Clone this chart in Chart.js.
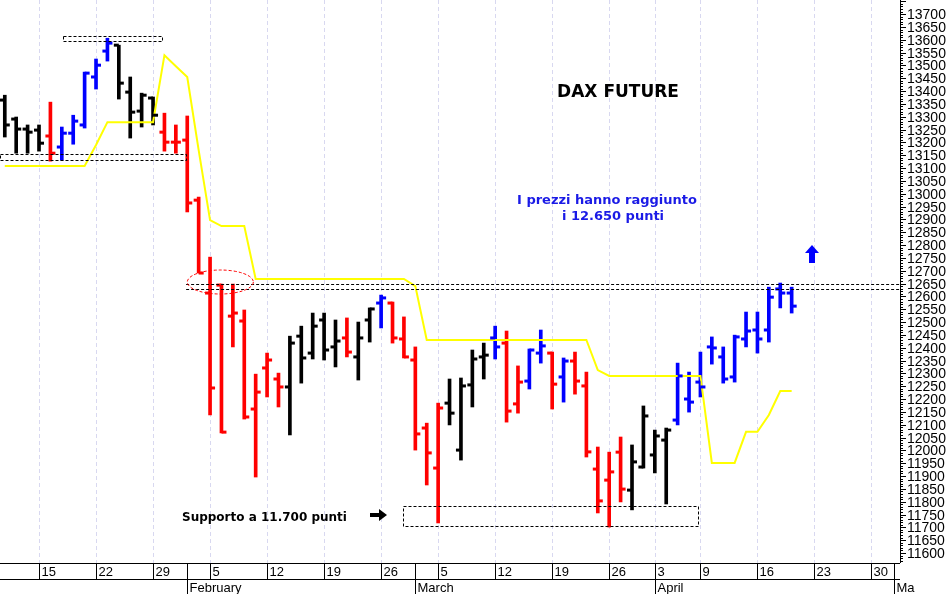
<!DOCTYPE html>
<html lang="it">
<head>
<meta charset="UTF-8">
<title>DAX Future</title>
<script src="https://cdn.jsdelivr.net/npm/chart.js"></script>
<style>
  html, body { margin: 0; padding: 0; background: #fff; }
  #wrap { width: 947px; height: 594px; }
</style>
</head>
<body>
<div id="wrap"><canvas id="dax" width="947" height="594"></canvas></div>
<script>
// trading-day index: 0 = 15 Jan 2018 (holidays skipped)
const firstIdx = -3;
const opens  = [13365,13291,13252,13248,13225,13182,13236,13268,13455,13556,13579,13396,13322,13373,13240,13201,13209,12975,12613,12644,12523,12504,12161,12321,12278,12247,12445,12379,12508,12403,12438,12364,12508,12574,12574,12434,12352,12087,11931,12184,12001,12255,12364,12438,12418,12181,12270,12379,12379,12286,12348,12251,11927,11884,11993,11845,11935,11982,12040,12118,12200,12266,12403,12364,12286,12434,12469,12469,12629,12613];
const highs  = [13384,13299,13268,13268,13357,13260,13306,13474,13525,13606,13579,13455,13392,13377,13314,13268,13303,12987,12753,12648,12648,12547,12297,12379,12301,12445,12484,12535,12535,12508,12516,12500,12555,12605,12578,12520,12403,12106,12184,12278,12282,12391,12418,12484,12465,12329,12395,12469,12383,12360,12383,12305,12013,11993,12052,12021,12173,12079,12087,12340,12305,12383,12442,12403,12449,12539,12539,12636,12652,12636];
const lows   = [13221,13158,13158,13166,13127,13131,13193,13256,13408,13517,13369,13217,13260,13268,13166,13158,12929,12691,12138,12068,12403,12122,11896,12208,12169,12060,12262,12356,12352,12325,12364,12274,12422,12477,12418,12360,12001,11865,11717,12099,11962,12169,12278,12356,12110,12145,12239,12340,12161,12188,12219,11974,11756,11701,11799,11768,11931,11912,11791,12099,12149,12208,12336,12262,12266,12403,12379,12422,12555,12535];
const closes = [13268,13252,13240,13197,13158,13236,13283,13470,13501,13587,13431,13318,13384,13306,13201,13201,12964,12691,12243,12071,12535,12130,12227,12352,12247,12418,12360,12484,12391,12426,12383,12438,12551,12594,12438,12364,12064,11990,12165,12145,12251,12356,12371,12403,12153,12266,12391,12407,12258,12348,12270,11994,11803,11916,11849,11955,12134,12056,12079,12290,12188,12247,12399,12278,12442,12465,12434,12597,12613,12562];
// signal colour per bar: k = neutral, r = short, b = long
const signals = 'kkkkrbbbbbkkkkrrrrrrrrrrrkkkkkrkkbrrrrrkkkkbrrbbrbrrrrrkkkkbbbbbbbbbbb'.split('');
const stopLine = [13108,13108,13108,13108,13108,13108,13108,13108,13190,13279,13279,13279,13279,13279,13540,13497,13455,13170,12897,12874,12874,12874,12668,12668,12668,12668,12668,12668,12668,12668,12668,12668,12668,12668,12668,12668,12640,12430,12430,12430,12430,12430,12430,12430,12430,12430,12430,12430,12430,12430,12430,12430,12313,12290,12290,12290,12290,12290,12290,12290,12290,12290,11951,11951,11951,12072,12072,12138,12231,12231];

const dayTicks   = [0, 5, 10, 15, 20, 25, 30, 35, 40, 45, 50, 54, 58, 63, 68, 73];
const dayLabels  = ['15','22','29','5','12','19','26','5','12','19','26','3','9','16','23','30'];
const monthTicks = [13, 33, 54, 75];
const monthLabels = ['February', 'March', 'April', 'Ma'];

const palette = { k: '#000000', r: '#ff0000', b: '#0000ff' };
const idx = opens.map((_, i) => firstIdx + i);

const overlay = {
  id: 'overlay',
  beforeDatasetsDraw(chart) {
    const { ctx, chartArea: a, scales: { x } } = chart;
    ctx.save();
    ctx.strokeStyle = '#d8d8f0';
    ctx.lineWidth = 1;
    ctx.setLineDash([4, 3]);
    dayTicks.forEach(t => {
      const px = Math.round(x.getPixelForValue(t)) + 0.5;
      ctx.beginPath(); ctx.moveTo(px, a.top); ctx.lineTo(px, a.bottom); ctx.stroke();
    });
    ctx.restore();
  },
  afterDatasetsDraw(chart) {
    const { ctx, chartArea: a, scales: { x, y } } = chart;
    ctx.save();
    // open / close ticks
    ctx.lineWidth = 3;
    idx.forEach((d, i) => {
      const px = x.getPixelForValue(d);
      ctx.strokeStyle = palette[signals[i]];
      const po = y.getPixelForValue(opens[i]), pc = y.getPixelForValue(closes[i]);
      ctx.beginPath(); ctx.moveTo(px - 5, po); ctx.lineTo(px, po); ctx.stroke();
      ctx.beginPath(); ctx.moveTo(px, pc); ctx.lineTo(px + 5, pc); ctx.stroke();
    });

    // dashed boxes and resistance lines
    ctx.lineWidth = 1;
    ctx.strokeStyle = '#000';
    ctx.setLineDash([3, 2]);
    const box = (x0, x1, v0, v1) => {
      const l = x.getPixelForValue(x0), r = x.getPixelForValue(x1);
      const t = y.getPixelForValue(v0), b = y.getPixelForValue(v1);
      ctx.strokeRect(Math.round(l) + 0.5, Math.round(t) + 0.5, Math.round(r - l), Math.round(b - t));
    };
    box(2.1, 10.8, 13614, 13595);
    box(-3.4, 12.9, 13154, 13131);
    box(31.9, 57.8, 11783, 11705);
    [12648, 12629].forEach(v => {
      const py = Math.round(y.getPixelForValue(v)) + 0.5;
      ctx.beginPath(); ctx.moveTo(x.getPixelForValue(12.9), py); ctx.lineTo(a.right, py); ctx.stroke();
    });
    ctx.strokeStyle = '#ff0000';
    ctx.beginPath();
    ctx.ellipse(x.getPixelForValue(15.9), y.getPixelForValue(12656), 33, 12, 0, 0, Math.PI * 2);
    ctx.stroke();
    ctx.setLineDash([]);

    // texts
    ctx.textAlign = 'center';
    ctx.textBaseline = 'middle';
    ctx.fillStyle = '#000';
    ctx.font = 'bold 17px "DejaVu Sans"';
    ctx.fillText('DAX FUTURE', 618, 93);
    ctx.fillStyle = '#1a1ae6';
    ctx.font = 'bold 13px "DejaVu Sans"';
    ctx.fillText('I prezzi hanno raggiunto', 607, 201);
    ctx.fillText('i 12.650 punti', 613, 217);
    ctx.fillStyle = '#000';
    ctx.font = 'bold 12px "DejaVu Sans"';
    ctx.textAlign = 'left';
    ctx.fillText('Supporto a 11.700 punti', 182, 518);
    // black right arrow
    ctx.beginPath();
    ctx.moveTo(370, 513); ctx.lineTo(379, 513); ctx.lineTo(379, 509); ctx.lineTo(387, 515);
    ctx.lineTo(379, 521); ctx.lineTo(379, 517); ctx.lineTo(370, 517); ctx.closePath(); ctx.fill();
    // blue up arrow
    ctx.fillStyle = '#0000ff';
    ctx.beginPath();
    ctx.moveTo(812, 245); ctx.lineTo(819, 253); ctx.lineTo(815, 253); ctx.lineTo(815, 263);
    ctx.lineTo(809, 263); ctx.lineTo(809, 253); ctx.lineTo(805, 253); ctx.closePath(); ctx.fill();

    // price axis: minor ticks and labels
    ctx.fillStyle = '#000';
    ctx.strokeStyle = '#000';
    ctx.lineWidth = 1;
    ctx.beginPath(); ctx.moveTo(a.right + 0.5, 0); ctx.lineTo(a.right + 0.5, a.bottom); ctx.stroke();
    ctx.font = '14px "Liberation Sans"';
    ctx.textAlign = 'left';
    for (let v = 11570; v <= 13750; v += 10) {
      const py = Math.round(y.getPixelForValue(v)) + 0.5;
      const major = v % 50 === 0;
      ctx.beginPath(); ctx.moveTo(a.right, py); ctx.lineTo(a.right + (major ? 6 : 3), py); ctx.stroke();
      if (major && v >= 11600 && v <= 13700) ctx.fillText(String(v), a.right + 7, py + 1);
    }

    // date axis
    const yb = a.bottom;
    ctx.beginPath();
    ctx.moveTo(0, yb + 0.5); ctx.lineTo(a.right, yb + 0.5);
    ctx.moveTo(0, yb + 16.5); ctx.lineTo(a.right, yb + 16.5);
    ctx.stroke();
    ctx.font = '13px "Liberation Sans"';
    dayTicks.forEach((t, i) => {
      const px = Math.round(x.getPixelForValue(t)) + 0.5;
      ctx.beginPath(); ctx.moveTo(px, yb); ctx.lineTo(px, yb + 16); ctx.stroke();
      ctx.fillText(dayLabels[i], px + 2, yb + 9);
    });
    monthTicks.forEach((t, i) => {
      const px = Math.round(x.getPixelForValue(t)) + 0.5;
      ctx.beginPath(); ctx.moveTo(px, yb); ctx.lineTo(px, yb + 32); ctx.stroke();
      ctx.fillText(monthLabels[i], px + 2, yb + 25);
    });
    ctx.restore();
  }
};

new Chart(document.getElementById('dax'), {
  data: {
    datasets: [{
      type: 'bar',
      data: idx.map((d, i) => ({ x: d, y: [lows[i], highs[i]] })),
      backgroundColor: signals.map(s => palette[s]),
      barThickness: 3,
      order: 2
    }, {
      type: 'line',
      data: idx.map((d, i) => ({ x: d, y: stopLine[i] })),
      borderColor: '#ffff00',
      borderWidth: 2,
      pointRadius: 0,
      tension: 0,
      order: 1
    }]
  },
  options: {
    responsive: false,
    animation: false,
    devicePixelRatio: 1,
    layout: { padding: { left: 0, top: 0, right: 47, bottom: 31 } },
    plugins: { legend: { display: false }, tooltip: { enabled: false } },
    scales: {
      x: { type: 'linear', min: -3.42, max: 75.5, offset: false, display: false },
      y: { position: 'right', min: 11561, max: 13755, display: false }
    }
  },
  plugins: [overlay]
});
</script>
</body>
</html>
